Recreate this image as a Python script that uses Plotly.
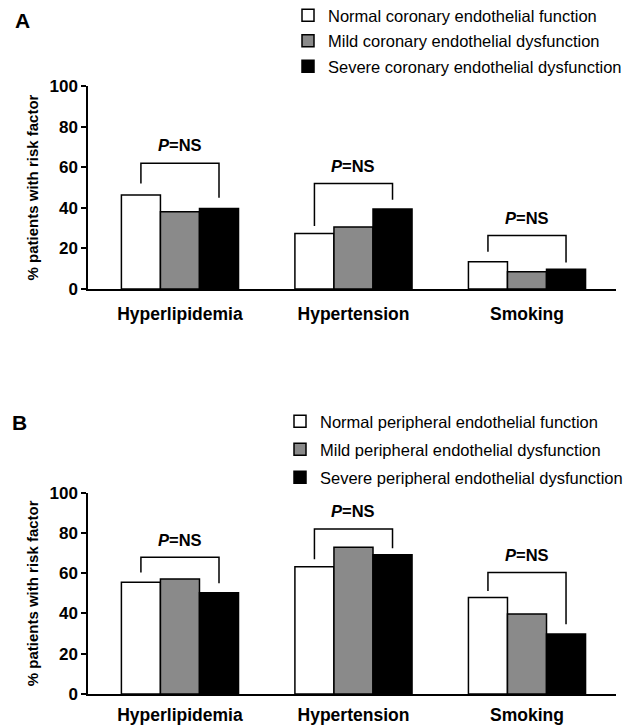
import plotly.graph_objects as go

categories = ["Hyperlipidemia", "Hypertension", "Smoking"]

names_a = ["Normal coronary endothelial function",
           "Mild coronary endothelial dysfunction",
           "Severe coronary endothelial dysfunction"]
names_b = ["Normal peripheral endothelial function",
           "Mild peripheral endothelial dysfunction",
           "Severe peripheral endothelial dysfunction"]

a_normal = [46.3, 27.4, 13.4]
a_mild = [38.0, 30.5, 8.5]
a_severe = [39.7, 39.4, 9.7]

b_normal = [55.5, 63.2, 48.0]
b_mild = [57.1, 72.9, 39.7]
b_severe = [50.3, 69.2, 29.8]

# significance brackets (heights in % units)
a_bracket_top = [61.9, 52.0, 26.4]
a_bracket_left = [52.0, 31.0, 18.4]
a_bracket_right = [45.0, 44.0, 13.0]
a_label_y = [70.8, 60.7, 34.8]

b_bracket_top = [67.9, 82.0, 60.3]
b_bracket_left = [60.3, 67.0, 51.2]
b_bracket_right = [55.0, 72.4, 34.6]
b_label_y = [76.5, 91.0, 69.0]

p_label = "<b><i>P</i>=NS</b>"
y_ticks = [0, 20, 40, 60, 80, 100]

fills = ["#ffffff", "#8a8a8a", "#000000"]
FONT = "Arial, Liberation Sans, sans-serif"

# page has an 8px body margin: the figure is drawn 8px in from the window corner
OFF = 8
W, H = 633 - OFF, 727 - OFF

def px(x):
    return (x - OFF) / W

def py(y):
    return 1 - (y - OFF) / H

BARGAP = 0.325
bw = (1 - BARGAP) / 3

fig = go.Figure()
xs = list(range(len(categories)))

def add_panel(series, names, xa, ya, legend, grp):
    for i, (vals, nm) in enumerate(zip(series, names)):
        fig.add_trace(go.Bar(
            x=xs, y=vals, name=nm, xaxis=xa, yaxis=ya, legend=legend,
            legendgroup=f"{grp}{i}",
            marker=dict(color=fills[i], line=dict(color="black", width=1.5)),
            offsetgroup=str(i),
        ))

add_panel([a_normal, a_mild, a_severe], names_a, "x", "y", "legend", "a")
add_panel([b_normal, b_mild, b_severe], names_b, "x2", "y2", "legend2", "b")

def add_brackets(tops, lefts, rights, labels, xa, ya):
    bx, by = [], []
    for i in xs:
        bx += [i - bw, i - bw, i + bw, i + bw, None]
        by += [lefts[i], tops[i], tops[i], rights[i], None]
    fig.add_trace(go.Scatter(x=bx, y=by, mode="lines", xaxis=xa, yaxis=ya,
                             line=dict(color="black", width=1.5),
                             showlegend=False, hoverinfo="skip"))
    for i in xs:
        fig.add_annotation(x=i, y=labels[i], xref=xa, yref=ya, text=p_label,
                           showarrow=False, font=dict(size=16.5, color="black", family=FONT),
                           xanchor="center", yanchor="middle")

add_brackets(a_bracket_top, a_bracket_left, a_bracket_right, a_label_y, "x", "y")
add_brackets(b_bracket_top, b_bracket_left, b_bracket_right, b_label_y, "x2", "y2")

xdom = [px(88), px(616)]
ydom_a = [py(289), py(86)]
ydom_b = [py(694), py(492.7)]

xaxis_common = dict(
    range=[-0.53, 2.513], tickvals=xs, ticktext=[f"<b>{c}</b>" for c in categories],
    showline=True, linecolor="black", linewidth=1.5, showgrid=False, zeroline=False,
    ticks="outside", tickcolor="rgba(0,0,0,0)",
    tickfont=dict(size=17.5, color="black", family=FONT), domain=xdom, fixedrange=True,
)
yaxis_common = dict(
    range=[0, 100], tickvals=y_ticks, ticktext=[f"<b>{t}</b>" for t in y_ticks],
    showline=True, linecolor="black", linewidth=1.5, showgrid=False, zeroline=False,
    ticks="outside", ticklen=5, tickwidth=1.5, tickcolor="black",
    tickfont=dict(size=17, color="black", family=FONT),
    title=dict(text="<b>% patients with risk factor</b>", standoff=7,
               font=dict(size=15, color="black", family=FONT)),
    fixedrange=True,
)

fig.update_layout(
    width=W, height=H,
    margin=dict(l=0, r=0, t=0, b=0, autoexpand=False),
    paper_bgcolor="white", plot_bgcolor="white",
    template="none",
    font=dict(family=FONT, color="black"),
    barmode="group", bargap=BARGAP, bargroupgap=0,
    xaxis=dict(**xaxis_common, ticklen=8, anchor="y"),
    yaxis=dict(**yaxis_common, domain=ydom_a, anchor="x"),
    xaxis2=dict(**xaxis_common, ticklen=4, anchor="y2"),
    yaxis2=dict(**yaxis_common, domain=ydom_b, anchor="x2"),
    legend=dict(x=px(328 - 40), xanchor="left", y=py(-2), yanchor="top",
                font=dict(size=16.5, color="black", family=FONT),
                bgcolor="rgba(0,0,0,0)", tracegroupgap=1, traceorder="grouped"),
    legend2=dict(x=px(320 - 40), xanchor="left", y=py(404), yanchor="top",
                 font=dict(size=16.5, color="black", family=FONT),
                 bgcolor="rgba(0,0,0,0)", tracegroupgap=3.5, traceorder="grouped"),
    showlegend=True,
)

fig.add_annotation(x=px(22), y=py(20), xref="paper", yref="paper", text="<b>A</b>",
                   showarrow=False, font=dict(size=21, color="black", family=FONT),
                   xanchor="center", yanchor="middle")
fig.add_annotation(x=px(20), y=py(423), xref="paper", yref="paper", text="<b>B</b>",
                   showarrow=False, font=dict(size=21, color="black", family=FONT),
                   xanchor="center", yanchor="middle")

fig.write_html("out.html")
